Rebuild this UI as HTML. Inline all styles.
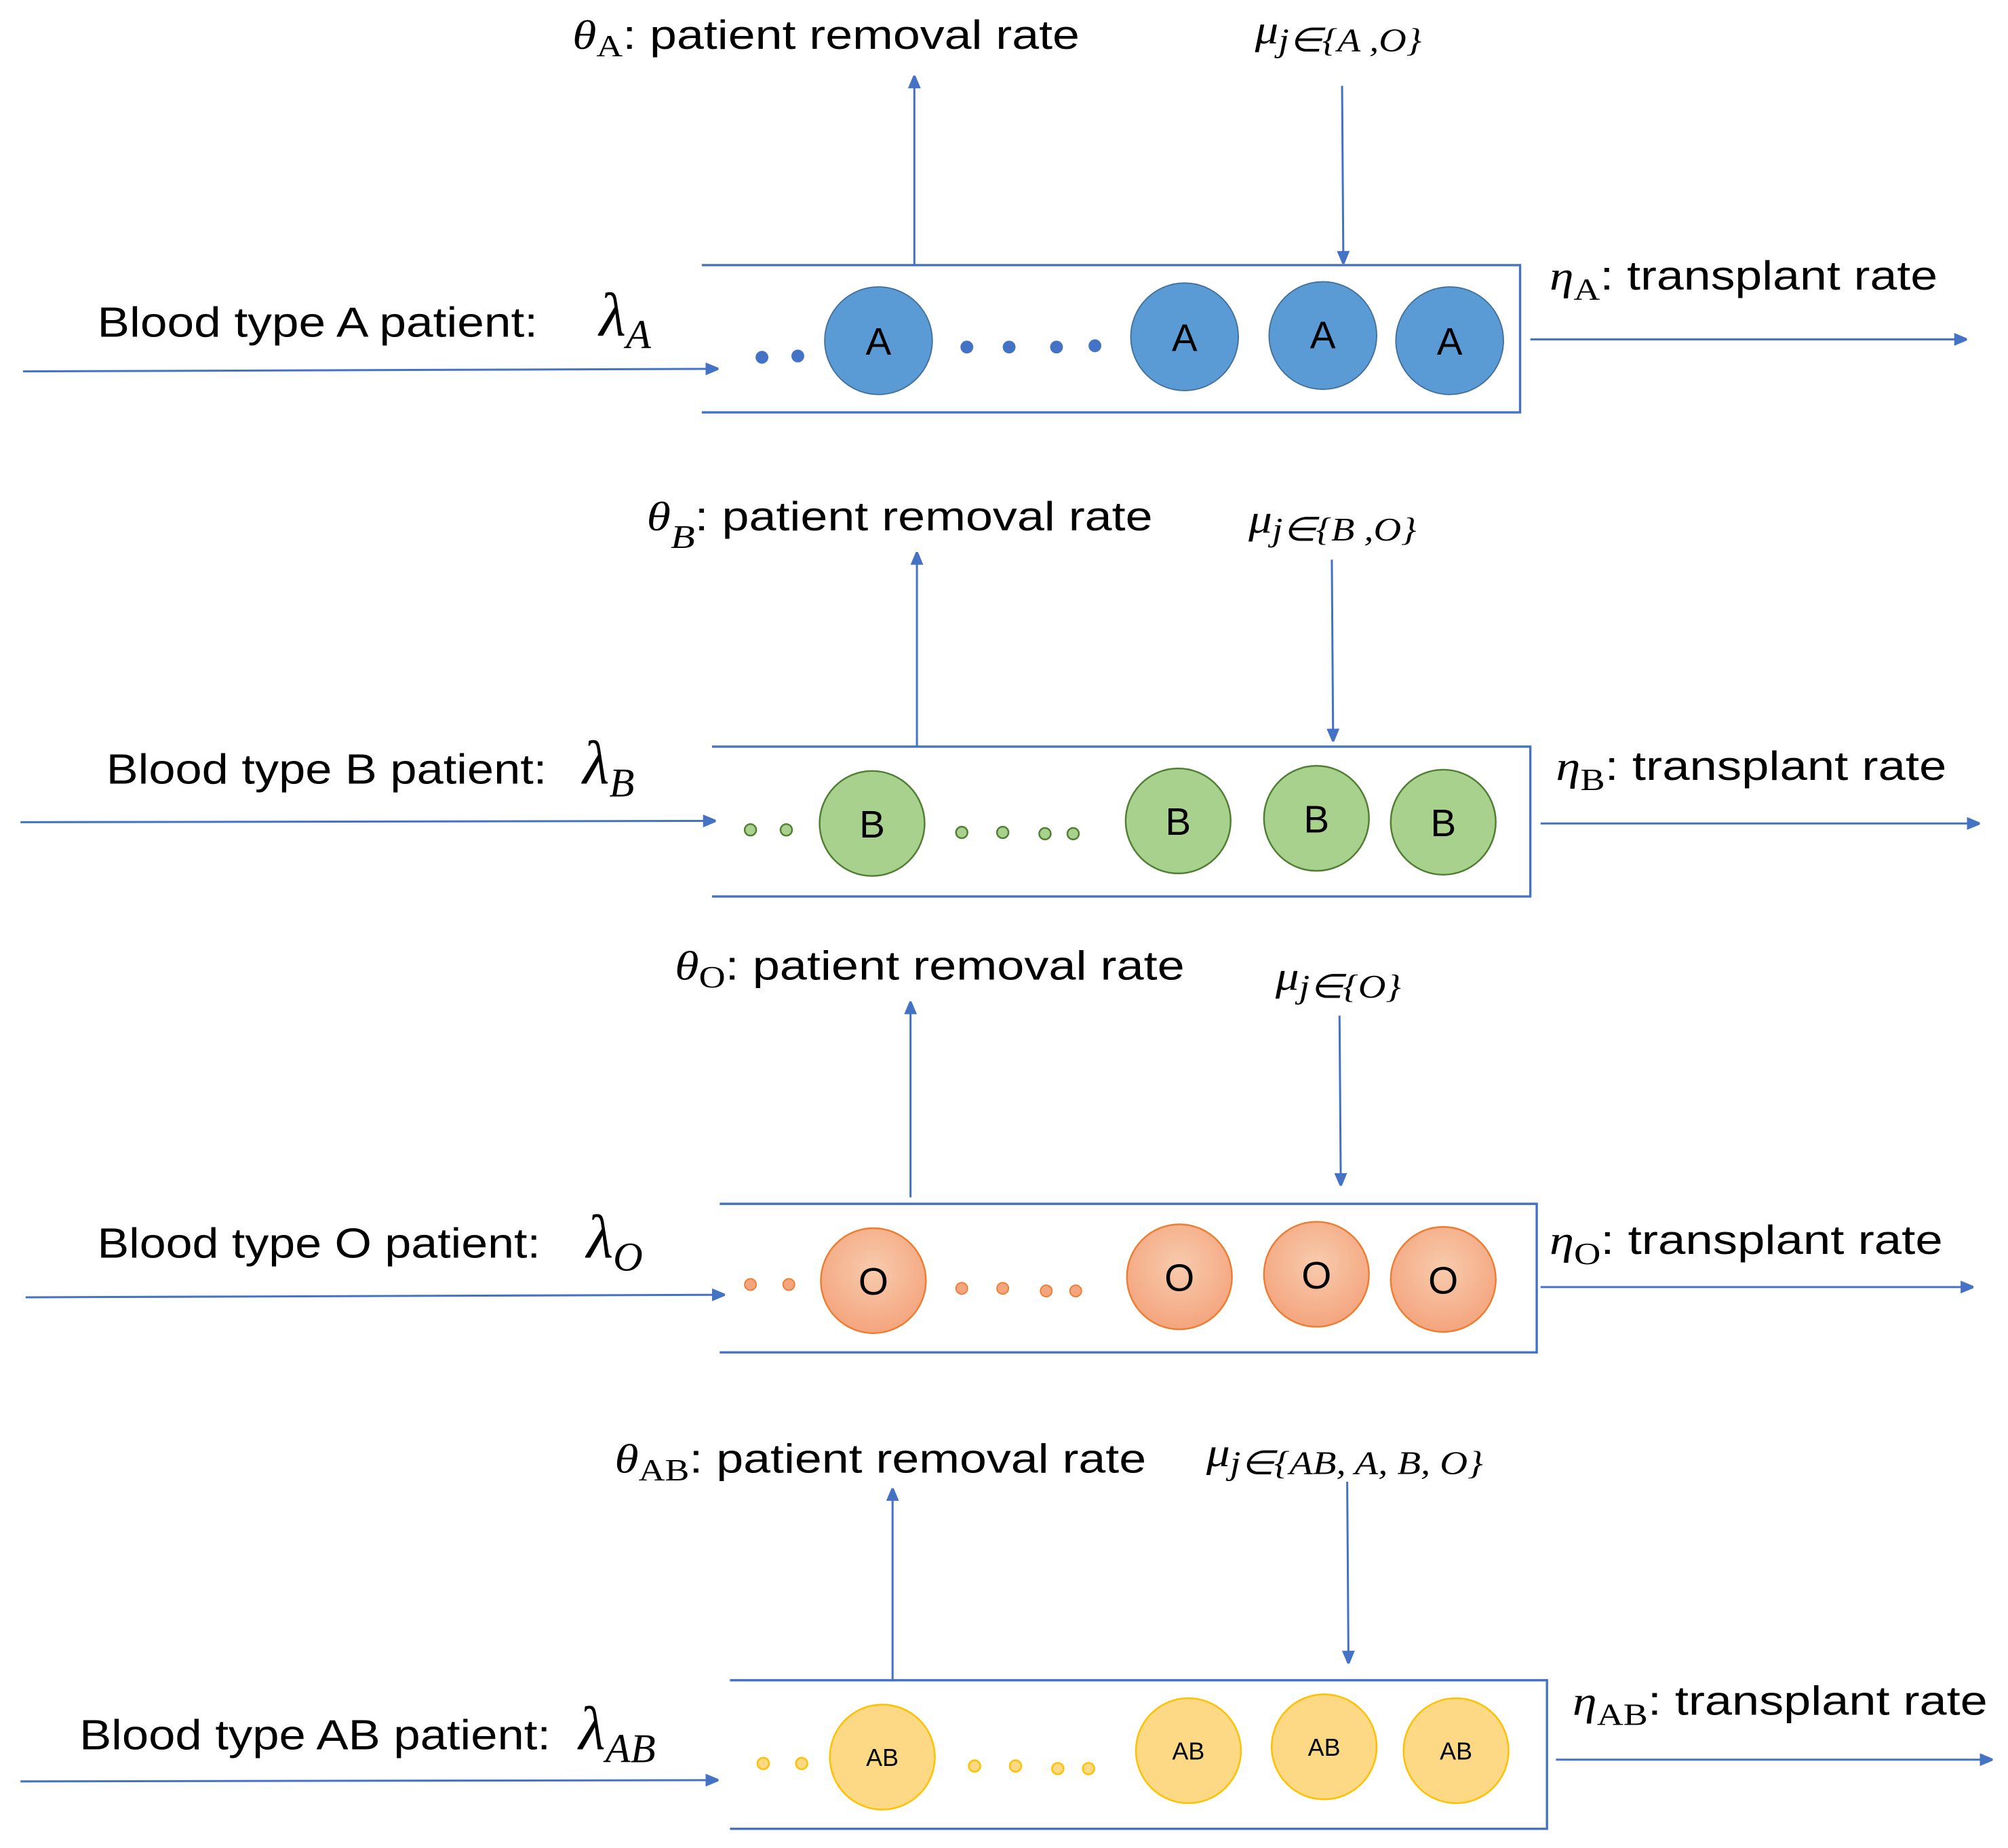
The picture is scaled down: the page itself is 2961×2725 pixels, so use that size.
<!DOCTYPE html>
<html><head><meta charset="utf-8"><style>html,body{margin:0;padding:0;background:#fff}svg{display:block}</style></head>
<body>
<svg width="2961" height="2725" viewBox="0 0 1568 1443" preserveAspectRatio="none" xmlns="http://www.w3.org/2000/svg" font-family="Liberation Sans, sans-serif">
<defs>
<marker id="ar" markerWidth="10" markerHeight="10" refX="9" refY="5" orient="auto" markerUnits="userSpaceOnUse"><path d="M0,0 L12,5 L0,10 z" fill="#4472c4"/></marker>
<radialGradient id="og" cx="50%" cy="40%" r="60%"><stop offset="0" stop-color="#f8cbad"/><stop offset="1" stop-color="#f4a57e"/></radialGradient>
</defs>
<g stroke="#4472c4" stroke-width="1.6" fill="none" marker-end="url(#ar)">
<line x1="18" y1="290" x2="560" y2="288"/><line x1="1195" y1="265" x2="1535" y2="265"/>
<line x1="714" y1="207" x2="714" y2="60"/><line x1="1048" y1="67" x2="1049" y2="205"/>
<line x1="16" y1="642" x2="558" y2="641"/><line x1="1203" y1="643" x2="1545" y2="643"/>
<line x1="716" y1="583" x2="716" y2="432"/><line x1="1040" y1="437" x2="1041" y2="578"/>
<line x1="20" y1="1013" x2="565" y2="1011"/><line x1="1203" y1="1005" x2="1540" y2="1005"/>
<line x1="711" y1="935" x2="711" y2="783"/><line x1="1046" y1="793" x2="1047" y2="925"/>
<line x1="16" y1="1391" x2="560" y2="1390"/><line x1="1215" y1="1374" x2="1555" y2="1374"/>
<line x1="697" y1="1312" x2="697" y2="1163"/><line x1="1052" y1="1157" x2="1053" y2="1298"/>
</g>
<g stroke="#4472c4" fill="none">
<path d="M548,207 H1187 V322 H548" stroke-width="1.8"/>
<path d="M556,583 H1195 V700 H556" stroke-width="1.8"/>
<path d="M562,940 H1200 V1056 H562" stroke-width="1.8"/>
<path d="M570,1312 H1208 V1428 H570" stroke-width="1.8"/>
</g>
<g fill="#5b9bd5" stroke="#41719c" stroke-width="1">
<circle cx="686" cy="266" r="42"/><circle cx="925" cy="263" r="42"/><circle cx="1033" cy="262" r="42"/><circle cx="1132" cy="266" r="42"/>
</g>
<g fill="#4472c4"><circle cx="595" cy="279" r="5"/><circle cx="623" cy="278" r="5"/><circle cx="755" cy="271" r="5"/><circle cx="788" cy="271" r="5"/><circle cx="825" cy="271" r="5"/><circle cx="855" cy="270" r="5"/></g>
<g fill="#a9d18e" stroke="#507e32" stroke-width="1.3">
<circle cx="681" cy="643" r="41"/><circle cx="920" cy="641" r="41"/><circle cx="1028" cy="639" r="41"/><circle cx="1127" cy="642" r="41"/>
<circle cx="586" cy="648" r="4.5"/><circle cx="614" cy="648" r="4.5"/><circle cx="751" cy="650" r="4.5"/><circle cx="783" cy="650" r="4.5"/><circle cx="816" cy="651" r="4.5"/><circle cx="838" cy="651" r="4.5"/>
</g>
<g fill="url(#og)" stroke="#ed7d31" stroke-width="1.3">
<circle cx="682" cy="1000" r="41"/><circle cx="921" cy="997" r="41"/><circle cx="1028" cy="995" r="41"/><circle cx="1127" cy="999" r="41"/>
</g>
<g fill="#f4a57e" stroke="#ed7d31"><circle cx="586" cy="1003" r="4.5"/><circle cx="616" cy="1003" r="4.5"/><circle cx="751" cy="1006" r="4.5"/><circle cx="783" cy="1006" r="4.5"/><circle cx="817" cy="1008" r="4.5"/><circle cx="840" cy="1008" r="4.5"/></g>
<g fill="#fed985" stroke="#ffc000" stroke-width="1.3">
<circle cx="689" cy="1372" r="41"/><circle cx="928" cy="1367" r="41"/><circle cx="1034" cy="1364" r="41"/><circle cx="1137" cy="1367" r="41"/>
<circle cx="596" cy="1377" r="4.5"/><circle cx="626" cy="1377" r="4.5"/><circle cx="761" cy="1379" r="4.5"/><circle cx="793" cy="1379" r="4.5"/><circle cx="826" cy="1381" r="4.5"/><circle cx="850" cy="1381" r="4.5"/>
</g>
<g fill="#000" font-size="30" text-anchor="middle">
<text x="686" y="277">A</text><text x="925" y="274">A</text><text x="1033" y="272">A</text><text x="1132" y="277">A</text>
<text x="681" y="654">B</text><text x="920" y="652">B</text><text x="1028" y="650">B</text><text x="1127" y="653">B</text>
<text x="682" y="1011">O</text><text x="921" y="1008">O</text><text x="1028" y="1006">O</text><text x="1127" y="1010">O</text>
</g>
<g fill="#000" font-size="19" text-anchor="middle">
<text x="689" y="1379">AB</text><text x="928" y="1374">AB</text><text x="1034" y="1371">AB</text><text x="1137" y="1374">AB</text>
</g>
<g fill="#000" font-size="33">
<text x="76" y="263" textLength="344" lengthAdjust="spacingAndGlyphs">Blood type A patient:</text>
<text x="83" y="612" textLength="344" lengthAdjust="spacingAndGlyphs">Blood type B patient:</text>
<text x="76" y="982" textLength="346" lengthAdjust="spacingAndGlyphs">Blood type O patient:</text>
<text x="62" y="1366" textLength="368" lengthAdjust="spacingAndGlyphs">Blood type AB patient:</text>
</g>
<g fill="#000" font-family="Liberation Serif, serif" font-style="italic">
<text x="468" y="262" font-size="48">λ<tspan font-size="32" dy="10">A</tspan></text>
<text x="455" y="612" font-size="48">λ<tspan font-size="32" dy="10">B</tspan></text>
<text x="458" y="982" font-size="48">λ<tspan font-size="32" dy="10">O</tspan></text>
<text x="452" y="1366" font-size="48">λ<tspan font-size="32" dy="10">AB</tspan></text>
</g>
<g fill="#000" font-size="32">
<text x="447" y="38" textLength="396" lengthAdjust="spacingAndGlyphs"><tspan font-family="Liberation Serif, serif" font-style="italic">θ</tspan><tspan font-size="24" dy="6" font-family="Liberation Serif, serif">A</tspan><tspan dy="-6">: patient removal rate</tspan></text>
<text x="505" y="414" textLength="395" lengthAdjust="spacingAndGlyphs"><tspan font-family="Liberation Serif, serif" font-style="italic">θ</tspan><tspan font-size="26" dy="14" font-family="Liberation Serif, serif" font-style="italic">B</tspan><tspan dy="-14">: patient removal rate</tspan></text>
<text x="527" y="765" textLength="398" lengthAdjust="spacingAndGlyphs"><tspan font-family="Liberation Serif, serif" font-style="italic">θ</tspan><tspan font-size="24" dy="6" font-family="Liberation Serif, serif">O</tspan><tspan dy="-6">: patient removal rate</tspan></text>
<text x="480" y="1150" textLength="415" lengthAdjust="spacingAndGlyphs"><tspan font-family="Liberation Serif, serif" font-style="italic">θ</tspan><tspan font-size="24" dy="6" font-family="Liberation Serif, serif">AB</tspan><tspan dy="-6">: patient removal rate</tspan></text>
<text x="1210" y="226" textLength="303" lengthAdjust="spacingAndGlyphs"><tspan font-family="Liberation Serif, serif" font-style="italic">η</tspan><tspan font-size="24" dy="8" font-family="Liberation Serif, serif">A</tspan><tspan dy="-8">: transplant rate</tspan></text>
<text x="1215" y="609" textLength="305" lengthAdjust="spacingAndGlyphs"><tspan font-family="Liberation Serif, serif" font-style="italic">η</tspan><tspan font-size="24" dy="8" font-family="Liberation Serif, serif">B</tspan><tspan dy="-8">: transplant rate</tspan></text>
<text x="1210" y="979" textLength="307" lengthAdjust="spacingAndGlyphs"><tspan font-family="Liberation Serif, serif" font-style="italic">η</tspan><tspan font-size="24" dy="8" font-family="Liberation Serif, serif">O</tspan><tspan dy="-8">: transplant rate</tspan></text>
<text x="1228" y="1339" textLength="324" lengthAdjust="spacingAndGlyphs"><tspan font-family="Liberation Serif, serif" font-style="italic">η</tspan><tspan font-size="24" dy="8" font-family="Liberation Serif, serif">AB</tspan><tspan dy="-8">: transplant rate</tspan></text>
</g>
<g fill="#000" font-family="Liberation Serif, serif" font-style="italic" font-size="32">
<text x="980" y="34" textLength="130" lengthAdjust="spacingAndGlyphs">μ<tspan font-size="26" dy="6">j∈{A ,O}</tspan></text>
<text x="975" y="416" textLength="131" lengthAdjust="spacingAndGlyphs">μ<tspan font-size="26" dy="6">j∈{B ,O}</tspan></text>
<text x="996" y="773" textLength="98" lengthAdjust="spacingAndGlyphs">μ<tspan font-size="26" dy="6">j∈{O}</tspan></text>
<text x="942" y="1145" textLength="216" lengthAdjust="spacingAndGlyphs">μ<tspan font-size="26" dy="6">j∈{AB, A, B, O}</tspan></text>
</g>
</svg>
</body></html>
